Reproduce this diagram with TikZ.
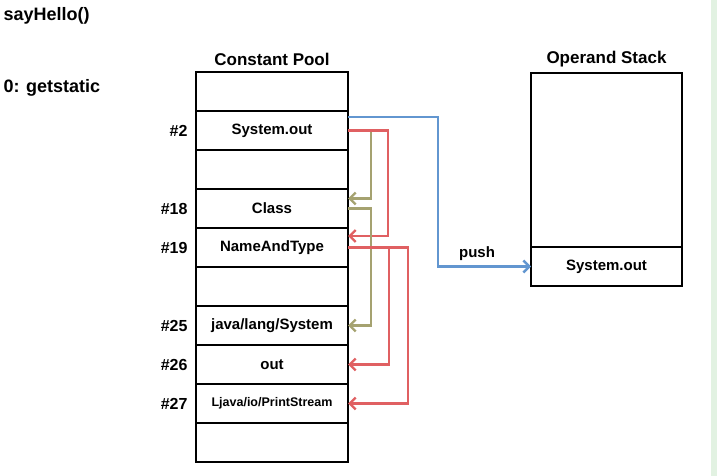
\documentclass[tikz,border=0pt]{standalone}
\usepackage{fontspec}
\setmainfont{Liberation Sans}
\usetikzlibrary{arrows.meta, positioning}
\definecolor{pushblue}{RGB}{98,150,208}
\definecolor{refolive}{RGB}{165,162,112}
\definecolor{refred}{RGB}{224,96,98}
\definecolor{edgegreen}{RGB}{226,242,226}

\begin{document}
\begin{tikzpicture}[x=1pt, y=-1pt,
        cell/.style={draw, line width=2.2pt, minimum width=152pt, minimum height=39pt, outer sep=0pt, inner sep=0pt, font=\bfseries\fontsize{15}{17}\selectfont},
        rowlbl/.style={font=\bfseries\fontsize{16}{18}\selectfont},
        title/.style={font=\bfseries\fontsize{17}{20}\selectfont},
        link/.style={line width=2.6pt, -{Straight Barb[length=6pt, width=12pt, line width=2.4pt]}}]
        \useasboundingbox (0,0) rectangle (717,476);
        \fill[edgegreen] (711,0) rectangle (717,476);

        \node[title, font=\bfseries\fontsize{18}{20}\selectfont, anchor=west] (method) at (0,16) {sayHello()};
        \node[title, font=\bfseries\fontsize{18}{20}\selectfont, anchor=west] (instr) at (0,88) {0: getstatic};

        % constant pool
        \node[cell] (cp0) at (272,91.5) {};
        \node[cell, below=0pt of cp0] (cp1) {System.out};
        \node[cell, below=0pt of cp1] (cp2) {};
        \node[cell, below=0pt of cp2] (cp3) {Class};
        \node[cell, below=0pt of cp3] (cp4) {NameAndType};
        \node[cell, below=0pt of cp4] (cp5) {};
        \node[cell, below=0pt of cp5] (cp6) {java/lang/System};
        \node[cell, below=0pt of cp6] (cp7) {out};
        \node[cell, below=0pt of cp7, font=\bfseries\fontsize{12.5}{15}\selectfont] (cp8) {Ljava/io/PrintStream};
        \node[cell, below=0pt of cp8] (cp9) {};
        \node[title, above=3pt of cp0] (cptitle) {Constant Pool};

        \node[rowlbl, left=5pt of cp1] (n2) {\#2};
        \node[rowlbl, left=5pt of cp3] (n18) {\#18};
        \node[rowlbl, left=5pt of cp4] (n19) {\#19};
        \node[rowlbl, left=5pt of cp6] (n25) {\#25};
        \node[rowlbl, left=5pt of cp7] (n26) {\#26};
        \node[rowlbl, left=5pt of cp8] (n27) {\#27};

        % operand stack
        \node[cell, minimum width=151pt, minimum height=174pt] (st0) at (606.5,160) {};
        \node[cell, minimum width=151pt, below=0pt of st0] (st1) {System.out};
        \node[title, above=2pt of st0] (sttitle) {Operand Stack};

        % references
        \draw[link, refolive] (cp1.east) -- ++(23,0) |- ([yshift=10pt]cp3.east);
        \draw[link, refred] (cp1.east) -- ++(40,0) |- ([yshift=11.5pt]cp4.east);
        \draw[link, refolive] (cp3.east) -- ++(23,0) |- (cp6.east);
        \draw[link, refred] (cp4.east) -- ++(41,0) |- (cp7.east);
        \draw[link, refred] (cp4.east) -- ++(60,0) |- (cp8.east);
        \draw[link, pushblue] ([yshift=13.5pt]cp1.east) -- ++(90,0) |- node[pos=0.71, above=1pt, text=black, font=\bfseries\fontsize{15}{17}\selectfont] {push} (st1.west);
    \end{tikzpicture}
\end{document}
